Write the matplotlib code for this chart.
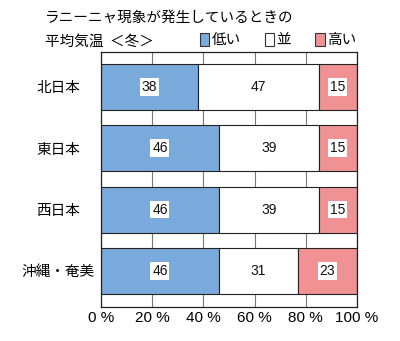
import numpy as np
import matplotlib
matplotlib.use("Agg")
from matplotlib import pyplot as plt
from matplotlib.patches import Patch

plt.rcParams['font.family'] = ['Noto Sans CJK JP', 'DejaVu Sans']

# Data: share of each temperature class (%) per region
regions = ["北日本", "東日本", "西日本", "沖縄・奄美"]
low = [38, 46, 46, 46]
normal = [47, 39, 39, 31]
high = [15, 15, 15, 23]
classes = ["低い", "並", "高い"]
colors = ["#7aaadc", "#ffffff", "#f09294"]
xticks = [0, 20, 40, 60, 80, 100]

fig = plt.figure(figsize=(4.0, 3.41), dpi=100)
ax = fig.add_axes([0.2525, 0.0997, 0.64, 0.7478])

y = np.arange(len(regions))
left = np.zeros(len(regions))
for vals, col in zip([low, normal, high], colors):
    vals = np.array(vals)
    ax.barh(y, vals, left=left, height=0.75, color=col,
            edgecolor="#222222", linewidth=0.8, zorder=2)
    for yi, l, v in zip(y, left, vals):
        box = None if col == "#ffffff" else dict(facecolor="white", edgecolor="none", pad=1.3)
        ax.text(l + v / 2, yi, str(v), ha="center", va="center",
                fontsize=10, family="Liberation Sans", color="#111111", bbox=box, zorder=3)
    left += vals

ax.set_xlim(0, 100)
ax.set_ylim(3.59, -0.57)
ax.set_xticks(xticks)
ax.set_xticklabels([f"{t} %" for t in xticks], fontsize=11, family="Liberation Sans")
ax.set_yticks(y)
ax.set_yticklabels(regions, fontsize=10.5, ha="center")
ax.tick_params(axis="x", length=0, pad=3)
ax.tick_params(axis="y", length=0, pad=31)
ax.xaxis.grid(True, color="#777777", linewidth=0.8, zorder=0)
ax.set_axisbelow(True)
for s in ax.spines.values():
    s.set_linewidth(0.9)
    s.set_color("#222222")

fig.text(0.112, 0.948, "ラニーニャ現象が発生しているときの", fontsize=10.5, va="center")
fig.text(0.112, 0.878, "平均気温  ＜冬＞", fontsize=10.5, va="center")

handles = [Patch(facecolor=c, edgecolor="#333333", linewidth=0.8) for c in colors]
fig.legend(handles, classes, ncol=3, loc="center left", bbox_to_anchor=(0.5, 0.882),
           frameon=False, fontsize=10.5, handlelength=0.65, handleheight=0.95,
           handletextpad=0.15, columnspacing=1.65, borderaxespad=0, borderpad=0)

fig.savefig("out.png", dpi=100)
